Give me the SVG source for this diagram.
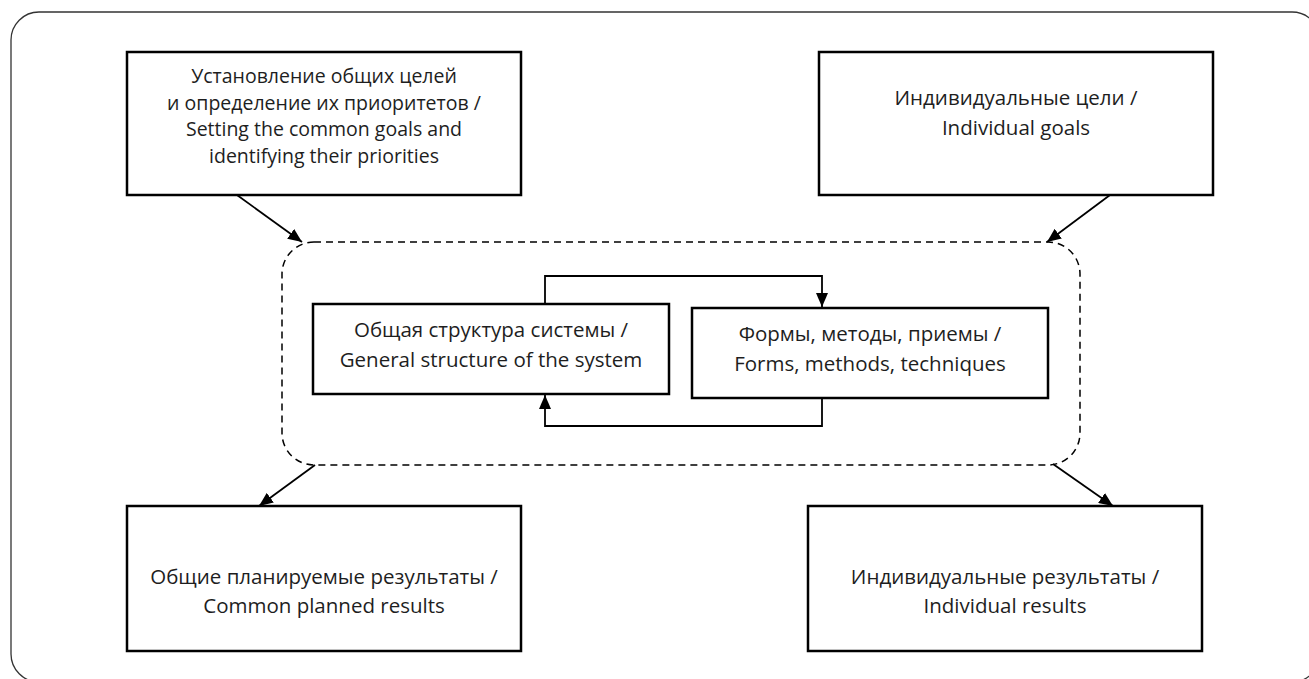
<svg xmlns="http://www.w3.org/2000/svg" width="1309" height="679" viewBox="0 0 1309 679">
<defs>
<marker id="ah" viewBox="0 0 14 12" refX="14" refY="6" markerWidth="14" markerHeight="12" markerUnits="userSpaceOnUse" orient="auto">
<path d="M0,0 L14,6 L0,12 Z" fill="#000"/>
</marker>
<style>
.box{fill:#fff;stroke:#000;stroke-width:2.5}
.t{font-family:"Open Sans","Noto Sans","DejaVu Sans",sans-serif;font-size:20.5px;fill:#1e1e1e;text-anchor:middle}
.t4{font-size:19.5px}
.c{fill:none;stroke:#000;stroke-width:1.8;marker-end:url(#ah)}
</style>
</defs>
<rect width="1309" height="679" fill="#fff"/>
<rect id="frame" x="11" y="12" width="1309" height="670" rx="28" fill="none" stroke="#333" stroke-width="1.3"/>
<g id="group-center">
<rect x="282" y="242" width="798" height="223" rx="32" fill="none" stroke="#000" stroke-width="1.5" stroke-dasharray="7,5"/>
</g>
<g id="connectors">
<path class="c" d="M237,195 L302,242"/>
<path class="c" d="M1110,195 L1047,242"/>
<path class="c" d="M315,465 L259,506"/>
<path class="c" d="M1053,464 L1113,506"/>
<path class="c" d="M545,304 V276 H822 V307"/>
<path class="c" d="M822,398 V426 H545 V395"/>
</g>
<g id="n1">
<rect class="box" x="127" y="52" width="394" height="143"/>
<text class="t t4"><tspan x="324" y="83">Установление общих целей</tspan><tspan x="324" y="109.7">и определение их приоритетов /</tspan><tspan x="324" y="136.4">Setting the common goals and</tspan><tspan x="324" y="163.1">identifying their priorities</tspan></text>
</g>
<g id="n2">
<rect class="box" x="819" y="52" width="394" height="143"/>
<text class="t"><tspan x="1016" y="105">Индивидуальные цели /</tspan><tspan x="1016" y="135">Individual goals</tspan></text>
</g>
<g id="n3">
<rect class="box" x="313" y="304" width="356" height="90"/>
<text class="t"><tspan x="491" y="337">Общая структура системы /</tspan><tspan x="491" y="367">General structure of the system</tspan></text>
</g>
<g id="n4">
<rect class="box" x="692" y="308" width="356" height="90"/>
<text class="t"><tspan x="870" y="341">Формы, методы, приемы /</tspan><tspan x="870" y="371">Forms, methods, techniques</tspan></text>
</g>
<g id="n5">
<rect class="box" x="127" y="506" width="394" height="145"/>
<text class="t"><tspan x="324" y="584">Общие планируемые результаты /</tspan><tspan x="324" y="613">Common planned results</tspan></text>
</g>
<g id="n6">
<rect class="box" x="808" y="506" width="394" height="145"/>
<text class="t"><tspan x="1005" y="584">Индивидуальные результаты /</tspan><tspan x="1005" y="613">Individual results</tspan></text>
</g>
</svg>
